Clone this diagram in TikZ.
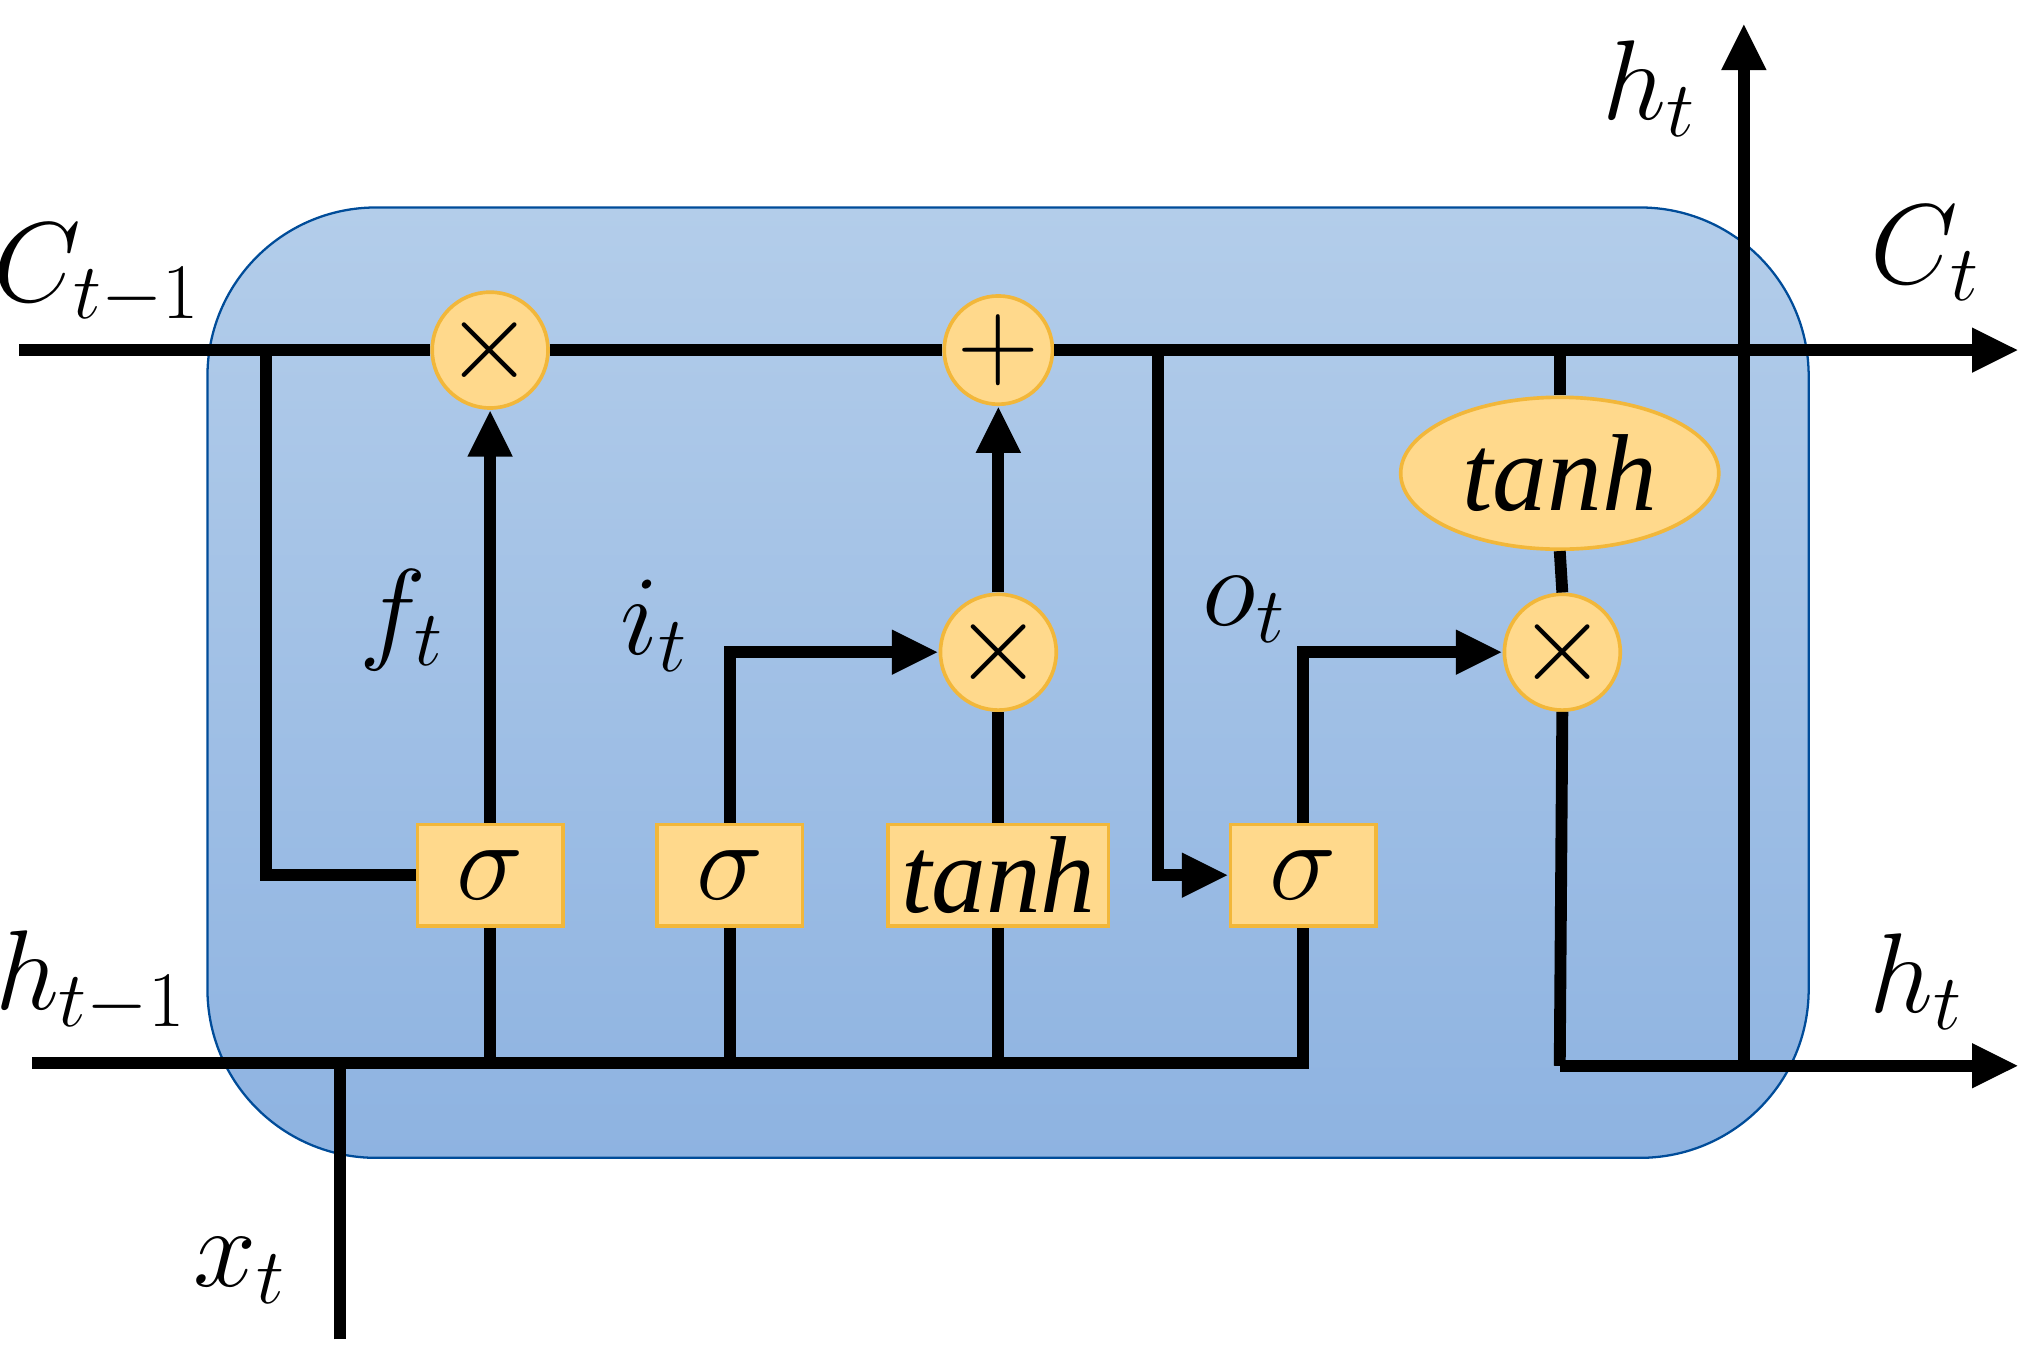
\documentclass[tikz,border=0pt]{standalone}
\usepackage{fontspec}
\setmainfont{Liberation Serif}
\usetikzlibrary{arrows.meta,shapes.geometric}
\definecolor{op}{HTML}{FFD98C}
\definecolor{opb}{HTML}{F2B73A}
\definecolor{bxt}{HTML}{B3CDEA}
\definecolor{bxb}{HTML}{8EB3E1}
\begin{document}
\begin{tikzpicture}[x=0.01cm,y=-0.01cm,
  ln/.style={line width=2.6pt,black},
  ar/.style={ln,-{Triangle[length=0.36cm,width=0.32cm]}},
  circ/.style={circle,fill=op,draw=opb,line width=0.8pt,minimum size=0.8cm,inner sep=0pt,font=\fontsize{26}{26}\selectfont},
  gate/.style={rectangle,fill=op,draw=opb,line width=0.8pt,minimum width=1.12cm,minimum height=0.78cm,inner sep=0pt,font=\itshape\fontsize{24}{24}\selectfont},
  lab/.style={font=\itshape\fontsize{24}{24}\selectfont}]
\useasboundingbox (0,0) rectangle (1568,1047);
\shade[top color=bxt,bottom color=bxb,draw=blue!50!cyan!60!black,line width=0.5pt,rounded corners=1.3cm] (160,160) rectangle (1395,893);
% nodes
\node[circ] (m1) at (378,270) {$\times$};
\node[circ] (p) at (770,270) {$+$};
\node[circ] (m2) at (770,503) {$\times$};
\node[circ] (m3) at (1205,503) {$\times$};
\node[ellipse,fill=op,draw=opb,line width=0.8pt,minimum width=2.35cm,minimum height=0.9cm,font=\itshape\fontsize{24}{24}\selectfont] (th2) at (1203,365) {tanh};
\node[gate] (s1) at (378,675) {$\sigma$};
\node[gate] (s2) at (563,675) {$\sigma$};
\node[gate,minimum width=1.7cm] (th1) at (770,675) {tanh};
\node[gate] (s3) at (1005,675) {$\sigma$};
% coordinates
\coordinate (cin) at (15,270);
\coordinate (cout) at (1557,270);
\coordinate (hin) at (25,820);
\coordinate (hc) at (1005,820);
\coordinate (xin) at (262,1033);
\coordinate (xj) at (262,820);
\coordinate (hout) at (1557,822);
\coordinate (htop) at (1345,18);
\coordinate (hb) at (1345,822);
\coordinate (corner) at (1203,822);
% cell line
\draw[ln] (cin) -- (m1);
\draw[ln] (m1) -- (p);
\draw[ar] (p) -- (cout);
% h line
\draw[ln] (hin) -- (hc) -- (s3.south);
\draw[ln] (xin) -- (xj);
% forget
\draw[ln] (205,270) |- (s1.west);
\draw[ar] (s1.north) -- (m1.south);
\draw[ln] (s1.south) -- (378,820);
% input
\draw[ln] (s2.south) -- (563,820);
\draw[ar] (s2.north) |- (m2.west);
\draw[ln] (th1.south) -- (770,820);
\draw[ln] (th1.north) -- (m2.south);
\draw[ar] (m2.north) -- (p.south);
% output
\draw[ar] (893,270) |- (s3.west);
\draw[ar] (s3.north) |- (m3.west);
\draw[ln] (1203,270) -- (th2.north);
\draw[ln] (th2.south) -- (m3.north);
\draw[ln] (m3.south) -- (corner);
\draw[ar] (corner) -- (hout);
\draw[ar] (hb) -- (htop);
% labels
\node[lab] at (75,212) {$C_{t-1}$};
\node[lab] at (1485,195) {$C_t$};
\node[lab] at (1272,68) {$h_t$};
\node[lab] at (70,757) {$h_{t-1}$};
\node[lab] at (1478,757) {$h_t$};
\node[lab] at (185,980) {$x_t$};
\node[lab] at (310,478) {$f_t$};
\node[lab] at (505,483) {$i_t$};
\node[lab] at (960,470) {$o_t$};
\end{tikzpicture}
\end{document}
